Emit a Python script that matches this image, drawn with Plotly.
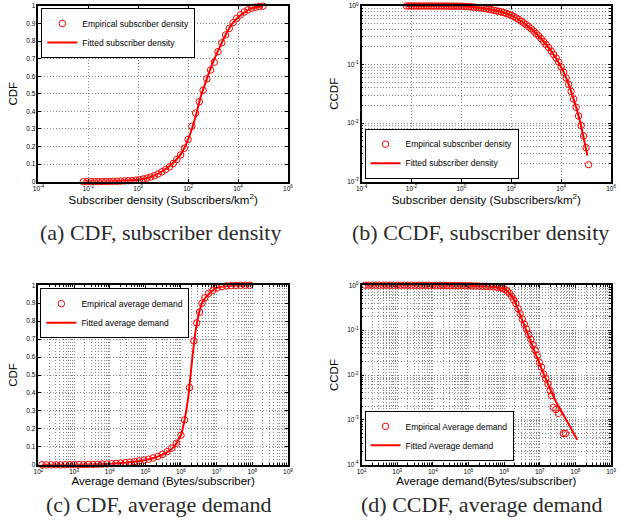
import plotly.graph_objects as go

# ---------------- Subscriber density ----------------
# CDF: empirical points (log10 of density) and values
dens_cdf_exp = [-2.2, -2.05, -1.9, -1.75, -1.6, -1.45, -1.3, -1.15, -1.0, -0.85,
                -0.7, -0.55, -0.4, -0.25, -0.1, 0.05, 0.2, 0.35, 0.5, 0.65,
                0.8, 0.95, 1.1, 1.25, 1.4, 1.55, 1.7, 1.85, 2.0, 2.15,
                2.3, 2.45, 2.6, 2.75, 2.9, 3.05, 3.2, 3.35, 3.5, 3.65,
                3.8, 3.95, 4.1, 4.25, 4.4, 4.55, 4.7, 4.85, 5.0]
dens_cdf_emp = [0.0, 0.0, 0.0, 0.0, 0.0, 0.001, 0.001, 0.001, 0.002, 0.002,
                0.003, 0.004, 0.005, 0.006, 0.008, 0.011, 0.015, 0.020, 0.026, 0.034,
                0.044, 0.056, 0.069, 0.084, 0.103, 0.126, 0.152, 0.19, 0.24, 0.315,
                0.39, 0.455, 0.52, 0.585, 0.635, 0.68, 0.74, 0.79, 0.835, 0.872,
                0.905, 0.93, 0.95, 0.966, 0.978, 0.987, 0.993, 0.997, 0.999]
# CDF: fitted curve
dens_cdf_fit_exp = [-2.2, -1.0, 0.0, 0.5, 1.0, 1.5, 1.75, 2.0, 2.25, 2.5,
                    2.75, 3.0, 3.25, 3.5, 3.75, 4.0, 4.5, 5.0]
dens_cdf_fit = [0.0, 0.002, 0.01, 0.026, 0.062, 0.12, 0.165, 0.24, 0.345, 0.48,
                0.585, 0.68, 0.76, 0.835, 0.895, 0.935, 0.985, 0.999]

# CCDF: empirical points
dens_ccdf_exp = [-2.2, -2.1, -2.0, -1.9, -1.8, -1.7, -1.6, -1.5, -1.4, -1.3,
                 -1.2, -1.1, -1.0, -0.9, -0.8, -0.7, -0.6, -0.5, -0.4, -0.3,
                 -0.2, -0.1, 0.0, 0.1, 0.2, 0.3, 0.4, 0.5, 0.6, 0.7,
                 0.8, 0.9, 1.0, 1.1, 1.2, 1.3, 1.4, 1.5, 1.6, 1.7,
                 1.8, 1.9, 2.0, 2.1, 2.2, 2.3, 2.4, 2.5, 2.6, 2.7,
                 2.8, 2.9, 3.0, 3.1, 3.2, 3.3, 3.4, 3.5, 3.6, 3.7,
                 3.8, 3.9, 4.0, 4.1, 4.2, 4.3, 4.4, 4.5, 4.6, 4.7,
                 4.8, 4.9, 5.0, 5.1]
dens_ccdf_emp = [1.0, 1.0, 1.0, 1.0, 1.0, 0.999, 0.999, 0.999, 0.999, 0.999,
                 0.998, 0.998, 0.998, 0.997, 0.997, 0.996, 0.996, 0.995, 0.994, 0.993,
                 0.992, 0.991, 0.990, 0.985, 0.979, 0.972, 0.964, 0.955, 0.946, 0.936,
                 0.925, 0.912, 0.895, 0.880, 0.862, 0.845, 0.826, 0.81, 0.79, 0.77,
                 0.745, 0.72, 0.692, 0.661, 0.624, 0.589, 0.550, 0.513, 0.479, 0.442,
                 0.407, 0.372, 0.339, 0.309, 0.275, 0.245, 0.219, 0.195, 0.170, 0.148,
                 0.129, 0.110, 0.091, 0.074, 0.059, 0.046, 0.0347, 0.0257, 0.0186, 0.0132,
                 0.0091, 0.0060, 0.0038, 0.00195]
# CCDF: fitted curve
dens_ccdf_fit_exp = [-2.2, -1.0, 0.0, 0.5, 1.0, 1.5, 2.0, 2.5, 3.0, 3.5,
                     4.0, 4.25, 4.5, 4.75, 5.05]
dens_ccdf_fit = [1.0, 0.998, 0.99, 0.955, 0.895, 0.81, 0.692, 0.513, 0.339, 0.195,
                 0.091, 0.052, 0.0257, 0.011, 0.0028]

# ---------------- Average demand ----------------
# CDF: empirical points (log10 of bytes per subscriber)
dem_cdf_exp = [2.1, 2.23, 2.36, 2.49, 2.62, 2.75, 2.88, 3.01, 3.14, 3.27,
               3.4, 3.53, 3.66, 3.79, 3.92, 4.05, 4.18, 4.31, 4.44, 4.57,
               4.7, 4.83, 4.96, 5.09, 5.22, 5.35, 5.48, 5.61, 5.74, 5.87,
               6.0, 6.1, 6.24, 6.36, 6.44, 6.52, 6.59, 6.67, 6.78, 6.9,
               7.02, 7.15, 7.28, 7.41, 7.54, 7.67, 7.8, 7.93]
dem_cdf_emp = [0.0, 0.0, 0.0, 0.0, 0.0, 0.0, 0.001, 0.001, 0.001, 0.001,
               0.002, 0.002, 0.003, 0.004, 0.005, 0.006, 0.008, 0.010, 0.012, 0.015,
               0.018, 0.022, 0.026, 0.031, 0.038, 0.047, 0.058, 0.073, 0.093, 0.12,
               0.165, 0.25, 0.43, 0.69, 0.79, 0.85, 0.90, 0.93, 0.955, 0.972,
               0.985, 0.992, 0.996, 0.998, 0.999, 1.0, 1.0, 1.0]
# CDF: fitted curve
dem_cdf_fit_exp = [2.1, 3.0, 4.0, 4.5, 5.0, 5.5, 5.8, 6.0, 6.1, 6.2,
                   6.3, 6.4, 6.5, 6.6, 6.8, 7.0, 7.5, 8.0]
dem_cdf_fit = [0.0, 0.001, 0.005, 0.013, 0.026, 0.058, 0.10, 0.165, 0.25, 0.37,
               0.56, 0.73, 0.84, 0.905, 0.955, 0.985, 0.998, 1.0]

# CCDF: empirical points
dem_ccdf_exp = [2.1, 2.2, 2.3, 2.4, 2.5, 2.6, 2.7, 2.8, 2.9, 3.0,
                3.1, 3.2, 3.3, 3.4, 3.5, 3.6, 3.7, 3.8, 3.9, 4.0,
                4.1, 4.2, 4.3, 4.4, 4.5, 4.6, 4.7, 4.8, 4.9, 5.0,
                5.1, 5.2, 5.3, 5.4, 5.5, 5.6, 5.7, 5.8, 5.9, 5.97,
                6.03, 6.09, 6.15, 6.21, 6.27, 6.33, 6.39, 6.45, 6.51, 6.57,
                6.63, 6.69, 6.75, 6.81, 6.87, 6.93, 6.99, 7.05, 7.11, 7.17,
                7.23, 7.29, 7.33, 7.38, 7.45, 7.52, 7.66, 7.72]
dem_ccdf_emp = [1.0, 1.0, 1.0, 1.0, 1.0, 1.0, 1.0, 0.999, 0.999, 0.999,
                0.999, 0.999, 0.998, 0.998, 0.998, 0.997, 0.997, 0.996, 0.995, 0.994,
                0.993, 0.992, 0.990, 0.988, 0.986, 0.984, 0.981, 0.978, 0.975, 0.972,
                0.968, 0.963, 0.957, 0.950, 0.942, 0.932, 0.918, 0.900, 0.875, 0.85,
                0.80, 0.74, 0.66, 0.57, 0.47, 0.39, 0.30, 0.23, 0.175, 0.135,
                0.105, 0.08, 0.062, 0.047, 0.036, 0.027, 0.019, 0.015, 0.0105, 0.0083,
                0.0063, 0.0045, 0.0035, 0.0019, 0.0017, 0.0014, 0.0005, 0.0005]
# CCDF: fitted curve
dem_ccdf_fit_exp = [2.1, 4.0, 5.0, 5.5, 5.8, 5.95, 6.05, 6.15, 6.25, 6.31,
                    6.44, 6.58, 6.72, 6.86, 7.0, 7.15, 7.3, 7.45, 7.6, 7.8, 8.05]
dem_ccdf_fit = [1.0, 0.995, 0.977, 0.944, 0.902, 0.851, 0.776, 0.661, 0.525, 0.427,
                0.229, 0.120, 0.063, 0.033, 0.0174, 0.0089, 0.0047, 0.0026, 0.0016, 0.00083, 0.00036]

# ---------------- Tick labels ----------------
dens_x_tickexp = [-4, -2, 0, 2, 4, 6]
dens_x_ticktext = ["10<sup>-4</sup>", "10<sup>-2</sup>", "10<sup>0</sup>",
                   "10<sup>2</sup>", "10<sup>4</sup>", "10<sup>6</sup>"]
dem_x_tickexp = [2, 3, 4, 5, 6, 7, 8, 9]
dem_x_ticktext = ["10<sup>2</sup>", "10<sup>3</sup>", "10<sup>4</sup>", "10<sup>5</sup>",
                  "10<sup>6</sup>", "10<sup>7</sup>", "10<sup>8</sup>", "10<sup>9</sup>"]
dens_ccdf_tickexp = [-3, -2, -1, 0]
dens_ccdf_ticktext = ["10<sup>-3</sup>", "10<sup>-2</sup>", "10<sup>-1</sup>", "10<sup>0</sup>"]
dem_ccdf_tickexp = [-4, -3, -2, -1, 0]
dem_ccdf_ticktext = ["10<sup>-4</sup>", "10<sup>-3</sup>", "10<sup>-2</sup>",
                     "10<sup>-1</sup>", "10<sup>0</sup>"]

captions = ["(a) CDF, subscriber density", "(b) CCDF, subscriber density",
            "(c) CDF, average demand", "(d) CCDF, average demand"]


def pw(exps):
    return [10 ** e for e in exps]


RED = "#ff0000"
SANS = "Liberation Sans"
GRID = "#8a8a8a"
DASH = "1px,2px"

fig = go.Figure()


def add_pair(n, emp_x, emp_y, fit_x, fit_y, emp_name, fit_name):
    ax = "" if n == 1 else str(n)
    leg = "legend" if n == 1 else f"legend{n}"
    fig.add_trace(go.Scatter(
        x=pw(emp_x), y=emp_y, mode="markers", name=emp_name,
        marker=dict(symbol="circle-open", size=6.5, color=RED, line=dict(width=1, color=RED)),
        xaxis="x" + ax, yaxis="y" + ax, legend=leg, cliponaxis=False))
    fig.add_trace(go.Scatter(
        x=pw(fit_x), y=fit_y, mode="lines", name=fit_name,
        line=dict(color=RED, width=2, shape="spline", smoothing=0.6),
        xaxis="x" + ax, yaxis="y" + ax, legend=leg, cliponaxis=False))


add_pair(1, dens_cdf_exp, dens_cdf_emp, dens_cdf_fit_exp, dens_cdf_fit,
         "Empirical subscriber density", "Fitted subscriber density")
add_pair(2, dens_ccdf_exp, dens_ccdf_emp, dens_ccdf_fit_exp, dens_ccdf_fit,
         "Empirical subscriber density", "Fitted subscriber density")
add_pair(3, dem_cdf_exp, dem_cdf_emp, dem_cdf_fit_exp, dem_cdf_fit,
         "Empirical average demand", "Fitted average demand")
add_pair(4, dem_ccdf_exp, dem_ccdf_emp, dem_ccdf_fit_exp, dem_ccdf_fit,
         "Empirical Average demand", "Fitted Average demand")


def axis(**kw):
    base = dict(showline=True, linecolor="black", linewidth=1.5, mirror="ticks",
                ticks="inside", ticklen=3, tickcolor="black", tickwidth=1,
                showgrid=True, gridcolor=GRID, griddash=DASH, gridwidth=1,
                zeroline=False,
                tickfont=dict(family=SANS, size=6.5, color="black"),
                title_font=dict(family=SANS, size=11.5, color="black"))
    base.update(kw)
    return base


minor_log = dict(dtick="D1", showgrid=True, gridcolor=GRID, griddash=DASH,
                 ticks="inside", ticklen=2, tickcolor="black")

LEFT = [33 / 619, 287 / 619]
RIGHT = [362 / 619, 616 / 619]
TOP = [1 - 180 / 529, 1 - 2 / 529]
BOTTOM = [1 - 467 / 529, 1 - 285 / 529]

x_dens_title = "Subscriber density (Subscribers/km<sup>2</sup>)"

fig.update_layout(
    width=619, height=529, margin=dict(l=0, r=0, t=0, b=0),
    paper_bgcolor="white", plot_bgcolor="white",
    font=dict(family=SANS, color="black"),
    xaxis=axis(type="log", domain=LEFT, range=[-4, 6], anchor="y",
               tickmode="array", tickvals=pw(dens_x_tickexp), ticktext=dens_x_ticktext,
               title=dict(text=x_dens_title, standoff=4)),
    yaxis=axis(domain=TOP, range=[0, 1], dtick=0.1, anchor="x",
               title=dict(text="CDF", standoff=6)),
    xaxis2=axis(type="log", domain=RIGHT, range=[-4, 6], anchor="y2",
                tickmode="array", tickvals=pw(dens_x_tickexp), ticktext=dens_x_ticktext,
                title=dict(text=x_dens_title, standoff=4)),
    yaxis2=axis(type="log", domain=TOP, range=[-3, 0], anchor="x2",
                tickmode="array", tickvals=pw(dens_ccdf_tickexp), ticktext=dens_ccdf_ticktext,
                minor=minor_log, title=dict(text="CCDF", standoff=6)),
    xaxis3=axis(type="log", domain=LEFT, range=[2, 9], anchor="y3",
                tickmode="array", tickvals=pw(dem_x_tickexp), ticktext=dem_x_ticktext,
                minor=minor_log,
                title=dict(text="Average demand (Bytes/subscriber)", standoff=3)),
    yaxis3=axis(domain=BOTTOM, range=[0, 1], dtick=0.1, anchor="x3",
                title=dict(text="CDF", standoff=6)),
    xaxis4=axis(type="log", domain=RIGHT, range=[2, 9], anchor="y4",
                tickmode="array", tickvals=pw(dem_x_tickexp), ticktext=dem_x_ticktext,
                minor=minor_log,
                title=dict(text="Average demand(Bytes/subscriber)", standoff=3)),
    yaxis4=axis(type="log", domain=BOTTOM, range=[-4, 0], anchor="x4",
                tickmode="array", tickvals=pw(dem_ccdf_tickexp), ticktext=dem_ccdf_ticktext,
                minor=minor_log, title=dict(text="CCDF", standoff=6)),
)

leg_common = dict(bgcolor="white", bordercolor="black", borderwidth=1,
                  font=dict(family=SANS, size=8.5, color="black"),
                  tracegroupgap=0, itemwidth=30)
fig.update_layout(
    legend=dict(x=36 / 619, y=1 - 4 / 529, xanchor="left", yanchor="top", **leg_common),
    legend2=dict(x=365 / 619, y=1 - 177 / 529, xanchor="left", yanchor="bottom", **leg_common),
    legend3=dict(x=35 / 619, y=1 - 288 / 529, xanchor="left", yanchor="top", **leg_common),
    legend4=dict(x=365 / 619, y=1 - 463 / 529, xanchor="left", yanchor="bottom", **leg_common),
)

# Sub-figure captions
cap_pos = [(157, 232), (483, 232), (155, 507), (484, 507)]
for text, (cx, cy) in zip(captions, cap_pos):
    fig.add_annotation(text=text, x=cx / 619, y=1 - cy / 529, xref="paper", yref="paper",
                       showarrow=False, xanchor="center", yanchor="middle",
                       font=dict(family="Liberation Serif", size=22, color="#2a2a2a"))

fig.write_html("out.html")
